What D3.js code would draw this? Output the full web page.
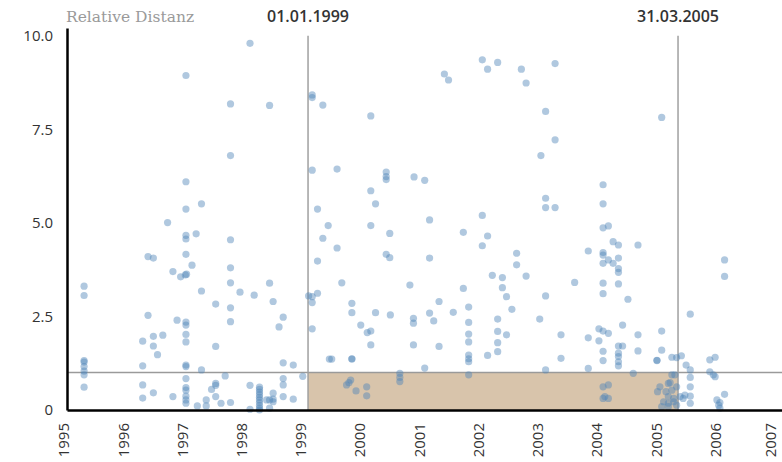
<!DOCTYPE html>
<html>
<head>
<meta charset="utf-8">
<script src="https://cdn.jsdelivr.net/npm/d3@7"></script>
<style>
  body { margin: 0; background: #fff; }
  text { font-family: "Open Sans", "Noto Sans", sans-serif; }
</style>
</head>
<body>
<div id="chart"></div>
<script>
// each dot: [decimal year, relative distance]
const dots1995to1998 = [
  [1995.22,3.31],[1995.22,3.06],[1995.22,1.32],[1995.22,1.28],[1995.22,1.16],[1995.22,1.04],[1995.22,0.94],[1995.22,0.61],
  [1996.21,1.84],[1996.21,1.18],[1996.21,0.67],[1996.21,0.32],
  [1996.30,4.10],[1996.30,2.53],
  [1996.39,4.06],[1996.39,1.97],[1996.39,1.71],[1996.39,0.46],
  [1996.46,1.48],[1996.55,2.00],[1996.63,5.01],
  [1996.72,3.70],[1996.72,0.36],[1996.79,2.40],
  [1996.85,3.56],[1996.93,3.61],[1996.95,3.63],
  [1996.94,8.94],[1996.94,6.10],[1996.94,5.37],[1996.94,4.67],[1996.94,4.57],[1996.94,4.16],[1996.94,2.35],[1996.94,2.27],
  [1996.94,2.02],[1996.94,1.82],[1996.94,1.20],[1996.94,1.16],[1996.94,0.84],[1996.94,0.60],[1996.94,0.53],[1996.94,0.37],
  [1996.94,0.27],[1996.94,0.18],
  [1997.04,3.87],[1997.11,4.71],[1997.13,0.11],
  [1997.20,5.51],[1997.20,3.18],[1997.20,1.07],
  [1997.28,0.27],[1997.28,0.11],[1997.37,0.55],
  [1997.44,2.83],[1997.44,1.70],[1997.44,0.71],[1997.44,0.66],[1997.44,0.36],
  [1997.53,0.18],[1997.60,0.91],
  [1997.69,8.18],[1997.69,6.80],[1997.69,4.55],[1997.69,3.80],[1997.69,3.40],[1997.69,2.73],[1997.69,2.36],[1997.69,0.20],
  [1997.85,3.15],
  [1998.02,9.80],[1998.02,0.66],[1998.02,0.02],
  [1998.09,3.07],
  [1998.18,0.61],[1998.18,0.55],[1998.18,0.48],[1998.18,0.41],[1998.18,0.34],[1998.18,0.27],[1998.18,0.20],[1998.18,0.12],
  [1998.18,0.05],[1998.18,0.0],
  [1998.30,0.27],
  [1998.35,8.14],[1998.35,3.39],[1998.35,0.27],[1998.35,0.05],
  [1998.41,2.90],[1998.41,0.45],[1998.41,0.29],[1998.41,0.22],
  [1998.51,2.22],
  [1998.58,2.48],[1998.58,1.26],[1998.58,0.84],[1998.58,0.67],[1998.58,0.36],
  [1998.75,1.20],[1998.75,0.29],
  [1998.91,0.90]
];

const dots1999to2002 = [
  [1999.01,3.05],
  [1999.07,8.42],[1999.07,8.35],[1999.07,6.41],[1999.07,3.03],[1999.07,2.87],[1999.07,2.17],
  [1999.16,5.37],[1999.16,3.98],[1999.16,3.12],
  [1999.25,8.15],[1999.25,4.59],
  [1999.34,4.93],
  [1999.36,1.36],[1999.40,1.36],
  [1999.49,6.44],[1999.49,4.33],
  [1999.57,3.40],
  [1999.65,0.67],[1999.69,0.73],[1999.72,0.80],
  [1999.74,2.85],[1999.74,2.60],[1999.74,1.36],[1999.74,1.37],
  [1999.81,0.51],[1999.89,2.27],
  [1999.99,0.62],[1999.99,0.38],
  [2000.00,2.07],
  [2000.06,7.86],[2000.06,5.86],[2000.06,4.93],[2000.06,2.11],[2000.06,1.74],
  [2000.14,5.51],[2000.14,2.60],
  [2000.32,6.36],[2000.32,6.24],[2000.32,6.16],[2000.32,4.16],
  [2000.38,4.72],[2000.38,4.07],[2000.39,2.54],
  [2000.55,0.98],[2000.55,0.87],[2000.55,0.76],
  [2000.72,3.34],
  [2000.78,2.45],[2000.78,2.32],[2000.78,1.74],
  [2000.79,6.23],
  [2000.97,6.14],[2000.97,1.12],
  [2001.05,5.08],[2001.05,4.06],[2001.05,2.59],
  [2001.12,2.38],
  [2001.21,2.90],[2001.21,1.70],
  [2001.30,8.98],[2001.37,8.82],
  [2001.45,2.61],
  [2001.62,4.75],[2001.62,3.25],
  [2001.71,2.75],[2001.71,2.34],[2001.71,2.03],[2001.71,1.82],[2001.71,1.47],[2001.71,1.37],[2001.71,1.29],[2001.71,0.94],
  [2001.94,9.36],[2001.94,5.20],[2001.94,4.39],
  [2002.03,9.11],[2002.03,4.65],[2002.03,1.46],
  [2002.11,3.60],
  [2002.20,9.29],[2002.20,2.43],[2002.20,2.10],[2002.20,1.80],[2002.20,1.56],
  [2002.28,3.54],[2002.28,3.27],
  [2002.35,3.03],[2002.35,2.01],
  [2002.44,2.69],
  [2002.52,4.19],[2002.52,3.88],
  [2002.60,9.11],
  [2002.68,8.74],[2002.68,3.58],
  [2002.91,2.43],[2002.93,6.80]
];

const dots2003to2006 = [
  [2003.01,7.98],[2003.01,5.66],[2003.01,5.41],[2003.01,3.05],[2003.01,1.07],
  [2003.17,9.26],[2003.17,7.22],[2003.17,5.41],
  [2003.27,2.01],[2003.27,1.38],
  [2003.50,3.41],
  [2003.73,4.25],[2003.73,1.93],[2003.73,1.11],
  [2003.91,2.17],[2003.91,1.85],
  [2003.98,6.02],[2003.98,5.51],[2003.98,4.87],[2003.98,4.21],[2003.98,4.14],[2003.98,3.92],[2003.98,3.39],[2003.98,3.11],
  [2003.98,2.11],[2003.98,1.57],[2003.98,1.32],[2003.98,0.62],[2003.98,0.31],
  [2004.01,0.36],
  [2004.07,4.92],[2004.07,4.01],[2004.07,2.05],[2004.07,0.67],[2004.07,0.31],
  [2004.15,4.50],[2004.15,3.92],
  [2004.24,4.41],[2004.24,4.06],[2004.24,3.78],[2004.24,3.68],[2004.24,3.37],[2004.24,1.71],[2004.24,1.52],[2004.24,1.43],
  [2004.24,1.29],[2004.24,1.18],
  [2004.31,2.27],[2004.31,1.71],
  [2004.40,2.96],
  [2004.49,0.98],
  [2004.57,4.41],[2004.57,2.01],[2004.57,1.58],
  [2004.89,1.32],[2004.89,1.33],
  [2004.94,0.62],[2004.90,0.49],
  [2004.97,7.82],[2004.97,2.11],[2004.97,1.60],[2004.97,0.09],
  [2005.00,0.22],[2005.04,0.49],
  [2005.08,0.71],[2005.08,0.36],[2005.08,0.18],[2005.08,0.09],
  [2005.11,0.73],
  [2005.14,1.41],[2005.14,0.94],[2005.14,0.53],
  [2005.17,0.31],[2005.17,0.22],
  [2005.19,0.94],
  [2005.22,1.40],[2005.22,0.62],[2005.22,0.13],
  [2005.28,0.36],[2005.30,1.45],[2005.33,0.31],[2005.36,0.40],
  [2005.38,1.20],
  [2005.45,2.56],[2005.45,1.07],[2005.45,0.87],[2005.45,0.62],[2005.45,0.37],[2005.45,0.18],
  [2005.78,1.34],[2005.78,1.02],
  [2005.84,0.94],
  [2005.87,1.41],[2005.87,0.89],
  [2005.90,0.27],[2005.93,0.13],
  [2005.95,0.20],[2005.95,0.05],
  [2006.03,4.01],[2006.03,3.57],[2006.03,0.42]
];

const yTicks = [0, 2.5, 5, 7.5, 10];
const markerDates = ["1999-01-01", "2005-03-31"];
const markerLabels = ["01.01.1999", "31.03.2005"];
const threshold = 1;
const yLabel = "Relative Distanz";

const width = 782, height = 462;
const margin = {top: 28, right: 0, bottom: 52, left: 67};

const svg = d3.select("#chart").append("svg")
  .attr("width", width)
  .attr("height", height);

// decimal year -> Date
function toDate(yr) {
  const y0 = Math.floor(yr);
  return new Date(+new Date(y0, 0, 1) + (yr - y0) * 365.25 * 864e5);
}
const parse = d3.timeParse("%Y-%m-%d");

const x = d3.scaleTime()
  .domain([new Date(1994, 11, 7), new Date(2007, 0, 1)])
  .range([margin.left, width - margin.right]);

const y = d3.scaleLinear()
  .domain([0, 10.21])
  .range([height - margin.bottom, margin.top]);

// shaded window below the threshold between the two dates
svg.append("rect")
  .attr("x", x(parse(markerDates[0])))
  .attr("y", y(threshold))
  .attr("width", x(parse(markerDates[1])) - x(parse(markerDates[0])))
  .attr("height", y(0) - y(threshold))
  .attr("fill", "#d8c4ab");

// threshold line
svg.append("line")
  .attr("x1", x.range()[0]).attr("x2", x.range()[1])
  .attr("y1", y(threshold)).attr("y2", y(threshold))
  .attr("stroke", "#9a9a9a")
  .attr("stroke-width", 1.5);

// marker lines + labels
markerDates.forEach(function (d, i) {
  const mx = x(parse(d));
  svg.append("line")
    .attr("x1", mx).attr("x2", mx)
    .attr("y1", y(10)).attr("y2", y(0))
    .attr("stroke", "#a0a0a0")
    .attr("stroke-width", 1.5);
  svg.append("text")
    .attr("x", mx)
    .attr("y", 22)
    .attr("text-anchor", "middle")
    .attr("font-size", 16)
    .attr("font-weight", 600)
    .attr("fill", "#333")
    .text(markerLabels[i]);
});

svg.append("text")
  .attr("x", 66)
  .attr("y", 22)
  .attr("font-size", 15.5)
  .attr("fill", "#9a9a9a")
  .style("font-family", "'DejaVu Serif', serif")
  .text(yLabel);

// dots
const allDots = dots1995to1998.concat(dots1999to2002, dots2003to2006);
svg.append("g")
  .selectAll("circle")
  .data(allDots).enter()
  .append("circle")
  .attr("cx", function (d) { return x(toDate(d[0])); })
  .attr("cy", function (d) { return y(d[1]); })
  .attr("r", 3.6)
  .attr("fill", "#4f86b8")
  .attr("fill-opacity", 0.45);

// axes
const xAxis = svg.append("g")
  .attr("transform", "translate(0," + y(0) + ")")
  .call(d3.axisBottom(x)
    .ticks(d3.timeYear.every(1))
    .tickFormat(d3.timeFormat("%Y"))
    .tickSize(0)
    .tickSizeOuter(0));
xAxis.select(".domain").attr("stroke", "#000").attr("stroke-width", 2.5);
const xLabels = xAxis.selectAll("text");
const nLabels = xLabels.size();
xLabels
  .attr("transform", "rotate(-90)")
  .attr("x", -13)
  .attr("y", 0)
  // last label sits on the right edge, nudge it inward
  .attr("dy", function (d, i) { return i === nLabels - 1 ? "-0.45em" : "-0.15em"; })
  .attr("text-anchor", "end")
  .attr("font-size", 15)
  .attr("fill", "#333");

const yAxis = svg.append("g")
  .attr("transform", "translate(" + margin.left + ",0)")
  .call(d3.axisLeft(y)
    .tickValues(yTicks)
    .tickFormat(function (d) { return d === 0 ? "0" : d3.format(".1f")(d); })
    .tickSize(0)
    .tickSizeOuter(0)
    .tickPadding(14));
yAxis.select(".domain").attr("stroke", "#000").attr("stroke-width", 2.5);
yAxis.selectAll("text")
  .attr("font-size", 15)
  .attr("fill", "#333");
</script>
</body>
</html>
